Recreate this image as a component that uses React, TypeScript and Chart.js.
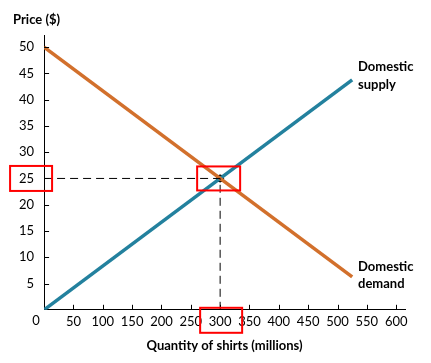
import React, { useEffect, useRef } from "react";
import { Chart, registerables } from "chart.js";

Chart.register(...registerables);

const supplyQ = [0, 525];
const supplyP = [0, 43.75];
const demandQ = [0, 525];
const demandP = [50, 6.25];
const eqQ = 300;
const eqP = 25;
const xTicks = [0, 50, 100, 150, 200, 250, 300, 350, 400, 450, 500, 550, 600];
const yTicks = [0, 5, 10, 15, 20, 25, 30, 35, 40, 45, 50];
const supplyLabel = ["Domestic", "supply"];
const demandLabel = ["Domestic", "demand"];

const FONT = "Lato, 'Open Sans', sans-serif";
const ORANGE = "#D2702C";
const TEAL = "#23819E";

const extrasPlugin = {
  id: "extras",
  afterDraw(chart: any) {
    const { ctx, chartArea } = chart;
    const xs = chart.scales.x;
    const ys = chart.scales.y;
    ctx.save();
    ctx.strokeStyle = "#000";
    ctx.lineWidth = 1;
    ctx.beginPath();
    xTicks.forEach((v) => {
      if (v === 0) return;
      const px = Math.round(xs.getPixelForValue(v)) + 0.5;
      ctx.moveTo(px, chartArea.bottom);
      ctx.lineTo(px, chartArea.bottom - 5);
    });
    yTicks.forEach((v) => {
      if (v === 0) return;
      const py = Math.round(ys.getPixelForValue(v)) + 0.5;
      ctx.moveTo(chartArea.left, py);
      ctx.lineTo(chartArea.left + 5, py);
    });
    ctx.stroke();

    ctx.fillStyle = "#000";
    ctx.textBaseline = "middle";
    ctx.textAlign = "left";
    ctx.font = `bold 13px ${FONT}`;
    ctx.fillText("Price ($)", chartArea.left - 31, chartArea.top - 15);
    const lx = xs.getPixelForValue(535);
    ctx.fillText(supplyLabel[0], lx, ys.getPixelForValue(46.2));
    ctx.fillText(supplyLabel[1], lx, ys.getPixelForValue(42.9));
    ctx.fillText(demandLabel[0], lx, ys.getPixelForValue(8.2));
    ctx.fillText(demandLabel[1], lx, ys.getPixelForValue(4.95));

    ctx.font = `13px ${FONT}`;
    ctx.textAlign = "center";
    ctx.fillText("0", xs.getPixelForValue(0) - 8, chartArea.bottom + 11);

    ctx.strokeStyle = "#FF0000";
    ctx.lineWidth = 2;
    const ey = ys.getPixelForValue(eqP);
    const ex = xs.getPixelForValue(eqQ);
    ctx.strokeRect(chartArea.left - 34, ey - 12.5, 42, 25);
    ctx.strokeRect(ex - 20, chartArea.bottom - 2, 42, 25);
    ctx.strokeRect(ex - 23, ey - 12, 43, 24);
    ctx.restore();
  },
};

export default function App() {
  const ref = useRef<HTMLCanvasElement | null>(null);
  useEffect(() => {
    document.body.style.margin = "0";
    const canvas = ref.current;
    if (!canvas) return;
    const pts = (xsArr: number[], ysArr: number[]) =>
      xsArr.map((x, i) => ({ x, y: ysArr[i] }));
    const chart = new Chart(canvas, {
      type: "scatter",
      data: {
        datasets: [
          {
            data: [{ x: 0, y: eqP }, { x: eqQ, y: eqP }],
            showLine: true,
            borderColor: "#000",
            borderWidth: 1,
            borderDash: [8, 5],
            pointRadius: 0,
          },
          {
            data: [{ x: eqQ, y: 0 }, { x: eqQ, y: eqP }],
            showLine: true,
            borderColor: "#000",
            borderWidth: 1,
            borderDash: [8, 5],
            pointRadius: 0,
          },
          {
            data: pts(demandQ, demandP),
            showLine: true,
            borderColor: ORANGE,
            borderWidth: 3.5,
            pointRadius: 0,
          },
          {
            data: pts(supplyQ, supplyP),
            showLine: true,
            borderColor: TEAL,
            borderWidth: 3.5,
            pointRadius: 0,
          },
          {
            data: [{ x: eqQ, y: eqP }],
            pointRadius: 3.5,
            pointBackgroundColor: "#000",
            pointBorderColor: "#000",
          },
        ],
      },
      options: {
        animation: false,
        responsive: false,
        layout: { padding: { left: 9, top: 35, right: 26, bottom: 9 } },
        plugins: {
          legend: { display: false },
          tooltip: { enabled: false },
        },
        scales: {
          x: {
            type: "linear",
            min: 0,
            max: 615,
            afterBuildTicks: (s: any) => {
              s.ticks = xTicks.map((v) => ({ value: v }));
            },
            grid: { display: true, drawOnChartArea: false, drawTicks: false },
            border: { display: true, color: "#000", width: 1 },
            ticks: {
              color: "#000",
              font: { family: FONT, size: 13 },
              padding: 4,
              maxRotation: 0,
              autoSkip: false,
              callback: (v: any) => (v === 0 ? "" : String(v)),
            },
            title: {
              display: true,
              text: "Quantity of shirts (millions)",
              color: "#000",
              font: { family: FONT, size: 13, weight: "bold" },
              padding: { top: 5, bottom: 0 },
            },
          },
          y: {
            type: "linear",
            min: 0,
            max: 52.3,
            afterBuildTicks: (s: any) => {
              s.ticks = yTicks.map((v) => ({ value: v }));
            },
            grid: { display: true, drawOnChartArea: false, drawTicks: false },
            border: { display: true, color: "#000", width: 1 },
            ticks: {
              color: "#000",
              font: { family: FONT, size: 13 },
              padding: 10,
              autoSkip: false,
              callback: (v: any) => (v === 0 ? "" : String(v)),
            },
          },
        },
      },
      plugins: [extrasPlugin],
    } as any);
    return () => chart.destroy();
  }, []);
  return <canvas ref={ref} width={431} height={363} style={{ display: "block" }} />;
}
